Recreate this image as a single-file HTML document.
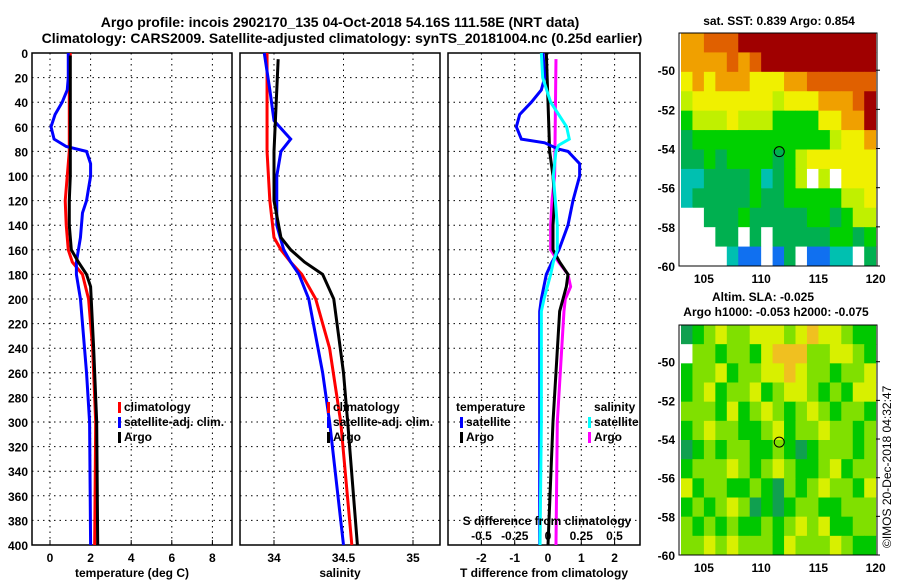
<!DOCTYPE html>
<html><head><meta charset="utf-8"><style>
html,body{margin:0;padding:0;background:#fff}
svg{display:block;font-family:"Liberation Sans",sans-serif;font-weight:bold}
</style></head><body>
<svg id="s" width="900" height="580" viewBox="0 0 900 580">
<text x="340" y="27" font-size="14" text-anchor="middle">Argo profile: incois 2902170_135 04-Oct-2018 54.16S 111.58E (NRT data)</text>
<text x="342" y="43" font-size="14" text-anchor="middle">Climatology: CARS2009. Satellite-adjusted climatology: synTS_20181004.nc (0.25d earlier)</text>
<text x="779" y="25" font-size="12" text-anchor="middle">sat. SST: 0.839 Argo: 0.854</text>
<text x="763" y="301" font-size="12" text-anchor="middle">Altim. SLA: -0.025</text>
<text x="776" y="316" font-size="12" text-anchor="middle">Argo h1000: -0.053 h2000: -0.075</text>
<text transform="translate(891,548) rotate(-90)" font-size="12" font-weight="normal">©IMOS 20-Dec-2018 04:32:47</text>
</svg>
<script>
const depthTicks=[0,20,40,60,80,100,120,140,160,180,200,220,240,260,280,300,320,340,360,380,400];
const tempTicks=[0,2,4,6,8];
const salTicks=[34,34.5,35];
const tdiffTicks=[-2,-1,0,1,2];
const sdiffTicks=[-0.5,-0.25,0,0.25,0.5];
const sdiffLabels=["-0.5","-0.25","0","0.25","0.5"];
const tempClimDepth=[0,20,40,60,80,100,120,140,160,170,180,200,240,300,400];
const tempClim=[1.0,0.95,0.95,0.95,0.95,0.85,0.75,0.8,0.9,1.1,1.6,1.9,2.1,2.25,2.2];
const tempSatDepth=[0,20,30,40,50,60,70,76,80,90,100,120,130,150,160,170,180,200,260,300,400];
const tempSat=[0.9,0.9,0.85,0.6,0.25,0.05,0.2,0.8,1.8,2.0,2.0,1.8,1.6,1.5,1.4,1.3,1.3,1.5,1.8,1.95,2.0];
const tempArgoDepth=[2,40,80,100,120,140,160,170,180,190,240,300,400];
const tempArgo=[1.0,1.0,1.0,1.0,0.95,0.95,1.05,1.4,1.8,2.0,2.15,2.3,2.35];
const salClimDepth=[0,40,80,120,150,160,170,180,200,240,300,400];
const salClim=[33.95,33.95,33.95,33.97,34.0,34.05,34.12,34.2,34.3,34.4,34.48,34.56];
const salSatDepth=[0,30,55,65,70,80,100,140,160,170,180,200,260,300,400];
const salSat=[33.93,33.97,34.0,34.08,34.12,34.05,34.02,34.02,34.07,34.12,34.18,34.25,34.35,34.4,34.5];
const salArgoDepth=[5,80,120,150,160,170,180,200,260,300,400];
const salArgo=[34.03,34.0,34.0,34.05,34.12,34.22,34.35,34.43,34.5,34.53,34.6];
const tdSatDepth=[0,20,30,40,50,60,70,73,78,80,90,100,120,140,160,170,180,200,210,300,400];
const tdSat=[-0.15,-0.1,-0.2,-0.5,-0.85,-0.95,-0.8,-0.1,0.3,0.6,0.95,0.95,0.75,0.6,0.33,0.12,-0.05,-0.2,-0.25,-0.25,-0.25];
const tdArgoDepth=[0,40,80,100,120,140,160,170,180,190,200,210,300,400];
const tdArgo=[-0.05,0.0,0.05,0.15,0.2,0.15,0.15,0.35,0.6,0.55,0.45,0.35,0.15,0.0];
const sdSatDepth=[0,20,40,50,60,70,75,80,100,140,160,170,180,200,210,300,400];
const sdSat=[-0.05,-0.04,0.02,0.08,0.14,0.16,0.08,0.06,0.04,0.07,0.07,0.04,0.02,-0.03,-0.05,-0.05,-0.06];
const sdArgoDepth=[5,100,120,140,160,170,180,190,200,210,300,400];
const sdArgo=[0.06,0.05,0.03,0.02,0.02,0.08,0.15,0.17,0.13,0.12,0.07,0.06];
const sstGrid=[
"77888999999999999","77778789999999999","67677766677888888","56666666566677789",
"45556555444466779","34444444444445667","33434444345666666","22333342345050666",
"23333343344444556","00333433333443455","00033030333334434","00002110130112203"];
const slaGrid=[
"34565566656766544","25545546777556654","45564556676554556","45645564566545466",
"55546456545654554","45655445645565545","34545544543455545","45556545654456455",
"64554454354565546","45456534345544555","54545445456564455","55656555465556544"];
const S="http://www.w3.org/2000/svg",svg=document.getElementById('s');
function mk(t,a,p){const e=document.createElementNS(S,t);for(const k in a)e.setAttribute(k,a[k]);(p||svg).appendChild(e);return e;}
const y0=53,yPer=(545-53)/400,Y=d=>y0+d*yPer;
function panel(name,x1,x2,xs,ticks,labels,xlabel){
 const g=mk('g',{});
 
 
 ticks.forEach(v=>{const x=xs(v);const l=mk('line',{x1:x,x2:x,y1:y0,y2:545,stroke:'#000','stroke-dasharray':'1.5,4','stroke-width':1},g);
  
  mk('line',{x1:x,x2:x,y1:545,y2:540,stroke:'#000'},g);
  if(labels){const t=mk('text',{x:x,y:562,'font-size':12,'text-anchor':'middle'},g);t.textContent=labels(v);
   }});
 depthTicks.forEach(d=>{if(d>0&&d<400){const l=mk('line',{x1:x1,x2:x2,y1:Y(d),y2:Y(d),stroke:'#000','stroke-dasharray':'1.5,4'},g);
  }});
 const r=mk('rect',{x:x1,y:y0,width:x2-x1,height:545-y0,fill:'none',stroke:'#000','stroke-width':1.5},g);
 
 const t=mk('text',{x:(x1+x2)/2,y:577,'font-size':12,'text-anchor':'middle'},g);t.textContent=xlabel;
 
 return g;}
function line(g,name,xs,ds,vs,col,w){
 const p=mk('polyline',{points:ds.map((d,i)=>xs(vs[i])+','+Y(d)).join(' '),fill:'none',stroke:col,'stroke-width':w||3},g);
 }
function legend(g,x,y,items){items.forEach((it,i)=>{const r=mk('rect',{x:x,y:y+i*15-9,width:3,height:11,fill:it[1]},g);
 
 const t=mk('text',{x:x+6,y:y+i*15,'font-size':12},g);t.textContent=it[0];
 });}
const XT=v=>50+v*20.3;
const g1=panel('temperature-panel',32,232,XT,tempTicks,v=>v,'temperature (deg C)');
depthTicks.forEach(d=>{const t=mk('text',{x:28,y:Y(d)+5,'font-size':12,'text-anchor':'end'},g1);t.textContent=d;
 });
line(g1,'temp-climatology-line',XT,tempClimDepth,tempClim,'#f00');
line(g1,'temp-satellite-line',XT,tempSatDepth,tempSat,'#00f');
line(g1,'temp-argo-line',XT,tempArgoDepth,tempArgo,'#000');
legend(g1,118,411,[['climatology','#f00'],['satellite-adj. clim.','#00f'],['Argo','#000']]);
const XS=v=>274+(v-34)*139;
const g2=panel('salinity-panel',240,440,XS,salTicks,v=>v,'salinity');
line(g2,'sal-climatology-line',XS,salClimDepth,salClim,'#f00');
line(g2,'sal-satellite-line',XS,salSatDepth,salSat,'#00f');
line(g2,'sal-argo-line',XS,salArgoDepth,salArgo,'#000');
legend(g2,327,411,[['climatology','#f00'],['satellite-adj. clim.','#00f'],['Argo','#000']]);
const XD=v=>548+v*33.3, XSD=v=>548+v*133;
const g3=panel('difference-panel',448,640,XD,tdiffTicks,v=>v,'T difference from climatology');
line(g3,'sdiff-argo-line',XSD,sdArgoDepth,sdArgo,'#f0f');
line(g3,'tdiff-argo-line',XD,tdArgoDepth,tdArgo,'#000');
line(g3,'tdiff-satellite-line',XD,tdSatDepth,tdSat,'#00f');
line(g3,'sdiff-satellite-line',XSD,sdSatDepth,sdSat,'#0ff');
let tt=mk('text',{x:456,y:411,'font-size':12},g3);tt.textContent='temperature';

tt=mk('text',{x:594,y:411,'font-size':12},g3);tt.textContent='salinity';

legend(g3,460,426,[['satellite','#00f'],['Argo','#000']]);
legend(g3,588,426,[['satellite','#0ff'],['Argo','#f0f']]);
tt=mk('text',{x:547,y:525,'font-size':12,'text-anchor':'middle'},g3);tt.textContent='S difference from climatology';

sdiffTicks.forEach((v,i)=>{const t=mk('text',{x:XSD(v),y:540,'font-size':12,'text-anchor':'middle'},g3);t.textContent=sdiffLabels[i];
 });
const sstCols=['#fff','#1070f0','#00c0b0','#00b050','#00d000','#c0f000','#f0f000','#f0a000','#e06000','#a00000'];
const slaCols=['#fff','#fff','#fff','#10a050','#00c800','#80e000','#d8f000','#f0c020'];
const XL=lon=>681+(lon-103)*11.45;
function map(name,grid,cols,top,bot,latTop){
 const g=mk('g',{});
 const YL=lat=>top+(latTop-lat)*(bot-top)/(latTop+60);
 grid.forEach((row,ri)=>{for(let c=0;c<row.length;c++){
  const r=mk('rect',{x:XL(103+c),y:top+ri*(bot-top)/12,width:11.9,height:(bot-top)/12+0.5,fill:cols[+row[c]]},g);
  }});
 const fr=mk('rect',{x:679,y:top,width:198,height:bot-top,fill:'none',stroke:'#000'},g);
 
 [-50,-52,-54,-56,-58,-60].forEach(l=>{const t=mk('text',{x:675,y:YL(l)+5,'font-size':12,'text-anchor':'end'},g);t.textContent=l;
  
  mk('line',{x1:876,x2:880,y1:YL(l),y2:YL(l),stroke:'#000'},g);});
 [105,110,115,120].forEach(l=>{const t=mk('text',{x:XL(l),y:bot+17,'font-size':12,'text-anchor':'middle'},g);t.textContent=l;
  });
 const c=mk('circle',{cx:XL(111.58),cy:YL(-54.16),r:5,fill:'none',stroke:'#000'},g);
 }
map('sst-map',sstGrid,sstCols,33,266,-48.1);
map('sla-map',slaGrid,slaCols,325,555,-48.1);
</script>
</body></html>
